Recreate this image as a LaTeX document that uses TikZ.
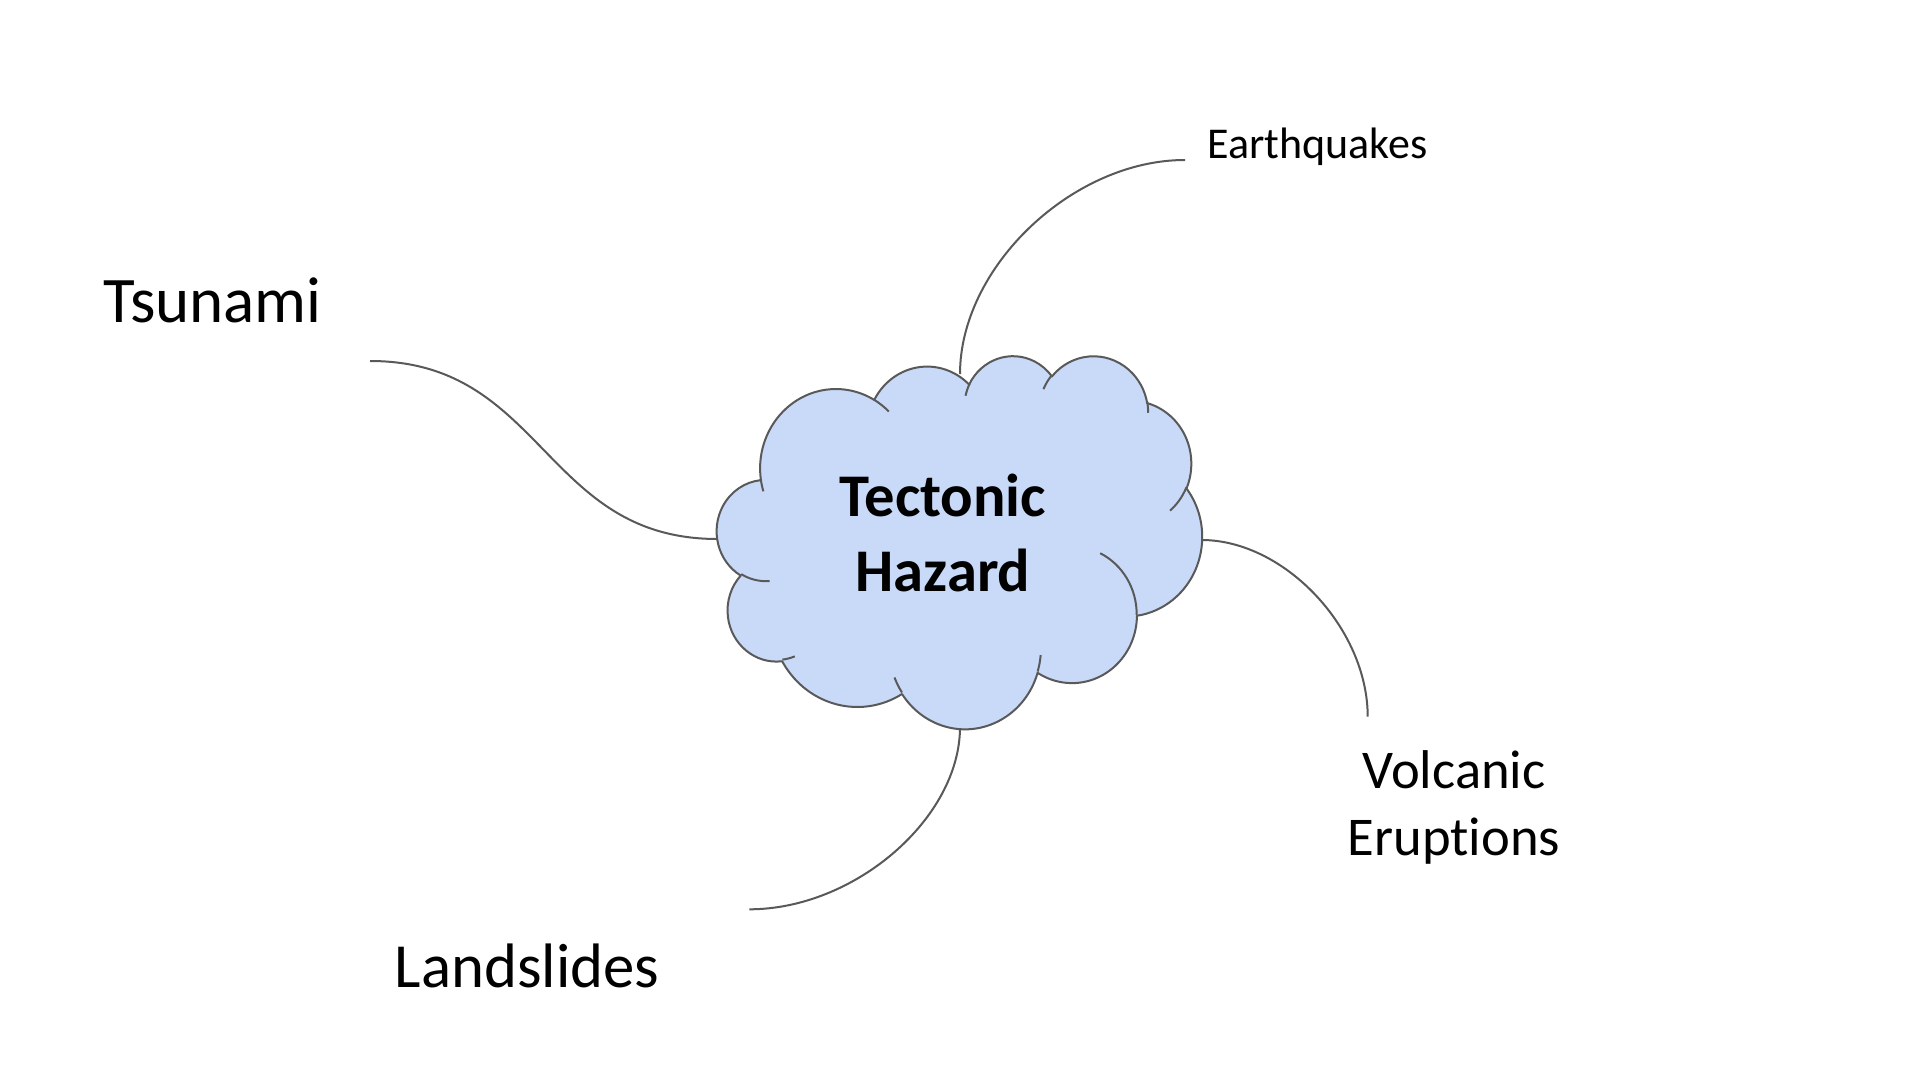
\documentclass[tikz,border=0pt]{standalone}
\usepackage{fontspec}
\setmainfont{Carlito}[Ligatures=NoCommon]
\definecolor{cloudfill}{HTML}{C9DAF8}
\definecolor{linegray}{HTML}{595959}
\tikzset{
  conn/.style={draw=linegray, line width=1pt},
  cloudline/.style={draw=linegray, line width=1pt, line join=round},
  lbl/.style={inner sep=0pt, text=black, anchor=base},
}
\begin{document}
\begin{tikzpicture}[x=0.5pt,y=-0.5pt]
\fill[white] (0,0) rectangle (1920,1080);
\useasboundingbox (0,0) rectangle (1920,1080);

% attachment points on the cloud and free connector ends
\coordinate (ctop) at (960,374);
\coordinate (cbot) at (960,727);
\coordinate (cleft) at (717.5,539);
\coordinate (cright) at (1201.5,540);
\coordinate (tsuend) at (370,361);
\coordinate (eqend) at (1185,160);
\coordinate (volend) at (1367.7,716.7);
\coordinate (landend) at (749.3,909.3);

% connectors
\draw[conn] (tsuend) .. controls +(174,0) and +(-174,0) .. (cleft);
\draw[conn] (eqend) .. controls +(-112.5,0) and +(0,-107) .. (ctop);
\draw[conn] (cright) .. controls +(83,0) and +(0,-88.3) .. (volend);
\draw[conn] (cbot) .. controls +(0,91.3) and +(105.3,0) .. (landend);

% cloud (PowerPoint-style cloud shape)
\begin{scope}[shift={(717,355)}, xscale=1.12269, yscale=0.86343]
\path[cloudline, fill=cloudfill] (39.00,143.70)
  arc[start angle=-187.745, end angle=-59.64,  x radius=67.53, y radius=91.90]
  arc[start angle=-152.05,  end angle=-45.454, x radius=53.33, y radius=72.67]
  arc[start angle=-153.49,  end angle=-37.30,  x radius=43.65, y radius=59.45]
  arc[start angle=-139.71,  end angle=-10.21,  x radius=48.57, y radius=65.95]
  arc[start angle=-74.77,   end angle=23.21,   x radius=53.33, y radius=72.73]
  arc[start angle=-37.50,   end angle=81.86,   x radius=67.75, y radius=92.20]
  arc[start angle=0.4596,   end angle=121.98,  x radius=57.85, y radius=78.67]
  arc[start angle=16.84,    end angle=146.22,  x radius=67.52, y radius=92.15]
  arc[start angle=58.99,    end angle=150.19,  x radius=77.20, y radius=105.43]
  arc[start angle=-276.69,  end angle=-136.91, x radius=43.60, y radius=59.18]
  arc[start angle=-239.65,  end angle=-95.89,  x radius=43.45, y radius=59.45]
  -- cycle;
\path[cloudline]
  (46.93,261.77) arc[start angle=85.55, end angle=120.35, x radius=43.45, y radius=59.45]
  (69.28,348.99) arc[start angle=68.24, end angle=83.31, x radius=43.60, y radius=59.18]
  (164.78,390.90) arc[start angle=146.22, end angle=158.47, x radius=67.52, y radius=92.15]
  (288.27,347.51) arc[start angle=4.738, end angle=16.84, x radius=67.52, y radius=92.15]
  (341.29,229.54) arc[start angle=-64.03, end angle=0.4596, x radius=57.85, y radius=78.67]
  (417.98,153.54) arc[start angle=23.21, end angle=49.65, x radius=53.33, y radius=72.73]
  (383.24,54.26) arc[start angle=-10.21, end angle=0.821, x radius=48.57, y radius=65.95]
  (290.78,39.52) arc[start angle=-156.29, end angle=-139.71, x radius=48.57, y radius=65.95]
  (221.41,47.20) arc[start angle=-167.73, end angle=-153.49, x radius=43.65, y radius=59.45]
  (140.00,51.92) arc[start angle=-59.64, end angle=-45.73, x radius=67.53, y radius=91.90]
  (41.27,157.89) arc[start angle=163.19, end angle=172.255, x radius=67.53, y radius=91.90];
\end{scope}

% labels
\node[lbl, font={\bfseries\fontsize{30.3}{37.5}\selectfont}] (haz) at (943,516)
  {\begin{tabular}[t]{@{}c@{}}Tectonic\\Hazard\end{tabular}};
\node[lbl, font={\fontsize{32.5}{39}\selectfont}] (tsu) at (212.5,322) {Tsunami};
\node[lbl, font={\fontsize{22}{26}\selectfont}] (eq) at (1317.5,159) {Earthquakes};
\node[lbl, font={\fontsize{31.4}{38}\selectfont}] (land) at (527,987.5) {Landslides};
\node[lbl, font={\fontsize{27.3}{33.6}\selectfont}] (volc) at (1454,788.3)
  {\begin{tabular}[t]{@{}c@{}}Volcanic\\Eruptions\end{tabular}};
\end{tikzpicture}
\end{document}
